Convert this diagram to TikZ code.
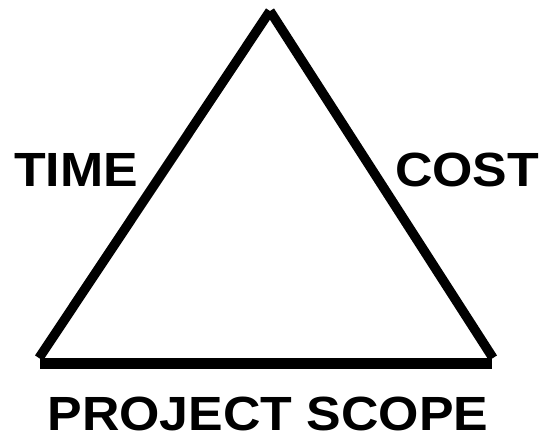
\documentclass[tikz,border=0pt]{standalone}
\usepackage{fontspec}
\setmainfont{Liberation Sans}
\begin{document}
\begin{tikzpicture}[x=1pt,y=-1pt,
  side/.style={line width=9.5pt,line cap=butt},
  base/.style={line width=11pt,line cap=butt},
  lbl/.style={font=\fontsize{48}{48}\selectfont\bfseries,inner sep=0pt,anchor=base,xscale=1.08}]
\useasboundingbox (0,0) rectangle (540,440);
\coordinate (apex) at (270,11);
\coordinate (bl) at (39,358);
\coordinate (br) at (493,358);
\coordinate (bbl) at (40,363);
\coordinate (bbr) at (492,363);
\draw[side] (apex) -- (bl);
\draw[side] (apex) -- (br);
\draw[base] (bbl) -- (bbr);
\node[lbl] (time) at (76,186) {TIME};
\node[lbl] (cost) at (467,186) {COST};
\node[lbl] (scope) at (268,430) {PROJECT SCOPE};
\end{tikzpicture}
\end{document}
